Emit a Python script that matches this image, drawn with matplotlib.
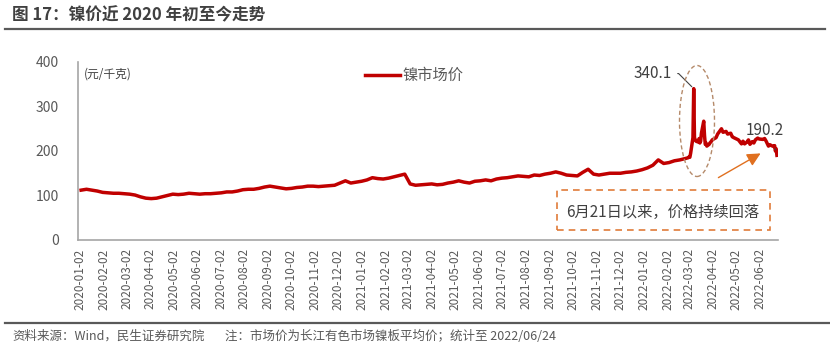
import matplotlib

matplotlib.use("Agg")

import matplotlib.pyplot as plt
import matplotlib.dates as mdates
import pandas as pd
from matplotlib.patches import Ellipse, Rectangle

plt.rcParams["font.family"] = ["Noto Sans CJK SC", "DejaVu Sans"]

# weekly prices (Fridays), 2020-01-03 .. 2022-02-25, 元/千克
weekly_2020 = [
    112, 114, 112, 110, 107,
    106, 105, 105, 104,
    103, 101, 97, 94,
    93, 94, 97, 100,
    103, 102, 103, 105, 104,
    103, 104, 104, 105,
    106, 108, 108, 110, 113,
    114, 114, 116, 119,
    121, 119, 117, 115,
    116, 118, 119, 121, 121,
    120, 121, 122, 123,
    128, 133, 128, 130,
]
weekly_2021 = [
    132, 135, 140, 138, 137,
    139, 142, 145, 148,
    126, 123, 124, 125,
    126, 124, 125, 128, 130,
    133, 130, 128, 132,
    133, 135, 133, 137,
    139, 140, 142, 144, 143,
    142, 146, 145, 148,
    150, 153, 150, 146,
    145, 144, 152, 159, 148,
    146, 148, 150, 150,
    150, 152, 153, 155, 158,
]
weekly_2022 = [162, 168, 180, 172, 174, 178, 180, 183]

# denser points for March-June 2022
late_dates = [
    "2022-03-01", "2022-03-02", "2022-03-03", "2022-03-04", "2022-03-07",
    "2022-03-08", "2022-03-09", "2022-03-10", "2022-03-11", "2022-03-14",
    "2022-03-15", "2022-03-16", "2022-03-17", "2022-03-18", "2022-03-21",
    "2022-03-22", "2022-03-23", "2022-03-24", "2022-03-25", "2022-03-28",
    "2022-03-29", "2022-03-30", "2022-03-31", "2022-04-01", "2022-04-06",
    "2022-04-08", "2022-04-11", "2022-04-13", "2022-04-15", "2022-04-19",
    "2022-04-21", "2022-04-25", "2022-04-27", "2022-04-29", "2022-05-05",
    "2022-05-09", "2022-05-11", "2022-05-13", "2022-05-16", "2022-05-18",
    "2022-05-20", "2022-05-23", "2022-05-25", "2022-05-27", "2022-05-30",
    "2022-06-01", "2022-06-06", "2022-06-08", "2022-06-10", "2022-06-13",
    "2022-06-15", "2022-06-17", "2022-06-20", "2022-06-21", "2022-06-22",
    "2022-06-23", "2022-06-24",
]
late_values = [
    185, 187, 186, 195, 230,
    340.1, 230, 225, 222, 220,
    228, 218, 222, 240, 267,
    235, 215, 218, 211, 215,
    218, 220, 222, 225, 230,
    238, 245, 250, 242, 244,
    238, 240, 232, 230, 225,
    216, 222, 216, 220, 225,
    215, 221, 218, 225, 229,
    227, 226, 228, 222, 211,
    214, 212, 210, 212, 200,
    205, 190.2,
]

weekly_vals = weekly_2020 + weekly_2021 + weekly_2022
weekly_dates = pd.date_range("2020-01-03", periods=len(weekly_vals), freq="W-FRI")
dates = list(weekly_dates) + list(pd.to_datetime(late_dates))
prices = weekly_vals + late_values

tick_dates = pd.date_range("2020-01-01", "2022-06-01", freq="MS") + pd.Timedelta(days=1)

fig = plt.figure(figsize=(8.3, 3.59), dpi=100)
ax = fig.add_axes([0.094, 0.3315, 0.843, 0.4958])

ax.plot(dates, prices, color="#C00000", linewidth=2.5, label="镍市场价", zorder=3)

ax.set_ylim(0, 400)
ax.set_yticks([0, 100, 200, 300, 400])
ax.set_xlim(pd.Timestamp("2019-12-30"), pd.Timestamp("2022-06-25"))
ax.set_xticks(tick_dates)
ax.xaxis.set_major_formatter(mdates.DateFormatter("%Y-%m-%d"))
ax.tick_params(axis="x", rotation=90, labelsize=8.5, colors="#595959", length=0, pad=6)
ax.tick_params(axis="y", labelsize=10, colors="#595959", length=0, pad=14)

for side in ["top", "right"]:
    ax.spines[side].set_visible(False)
for side in ["left", "bottom"]:
    ax.spines[side].set_color("#A6A6A6")
    ax.spines[side].set_linewidth(1.2)

ax.text(0.008, 0.93, "(元/千克)", transform=ax.transAxes, fontsize=8.5,
        color="#404040", va="center")

ax.legend(loc="upper left", bbox_to_anchor=(0.39, 1.05), frameon=False,
          fontsize=11, handlelength=2.3, handletextpad=0.2, labelcolor="#595959")

# peak annotation
peak_date = pd.Timestamp("2022-03-08")
ax.annotate("340.1", xy=(peak_date, 340.1), xytext=(pd.Timestamp("2022-02-08"), 374),
            fontsize=11, color="#404040", ha="right", va="center",
            arrowprops=dict(arrowstyle="-", color="#404040", lw=0.8,
                            connectionstyle="angle,angleA=0,angleB=135,rad=0"))
ax.annotate("190.2", xy=(pd.Timestamp("2022-06-24"), 197), xytext=(pd.Timestamp("2022-06-08"), 247),
            fontsize=11, color="#404040", ha="center", va="center",
            arrowprops=dict(arrowstyle="-", color="#404040", lw=0.8, shrinkA=6))

fig_w, fig_h = 830, 359

# dashed ellipse around the spike
ell = Ellipse((697 / fig_w, 1 - 121 / fig_h), 35 / fig_w, 111 / fig_h,
              transform=fig.transFigure, fill=False, edgecolor="#B58A6A",
              linestyle=(0, (3, 2)), linewidth=1.0)
fig.patches.append(ell)

# arrow and callout box
fig.patches.append(Rectangle((557 / fig_w, 1 - 230 / fig_h), 213 / fig_w, 40 / fig_h,
                             transform=fig.transFigure, fill=False, edgecolor="#E07B39",
                             linestyle=(0, (4, 3)), linewidth=1.2))
fig.text(663 / fig_w, 1 - 212 / fig_h, "6月21日以来，价格持续回落", fontsize=11,
         color="#404040", ha="center", va="center")
ax.annotate("", xy=(763 / fig_w, 1 - 152 / fig_h), xytext=(716 / fig_w, 1 - 179 / fig_h),
            xycoords="figure fraction", textcoords="figure fraction",
            arrowprops=dict(arrowstyle="-|>,head_length=0.8,head_width=0.4",
                            color="#E07020", lw=1.0))

# title, rules and footer
fig.text(12 / fig_w, 1 - 15 / fig_h, "图 17：镍价近 2020 年初至今走势", fontsize=12,
         fontweight="bold", color="#404040", va="center")
fig.add_artist(plt.Line2D([5 / fig_w, 825 / fig_w], [1 - 29 / fig_h] * 2,
                          color="#595959", linewidth=1.6))
fig.add_artist(plt.Line2D([5 / fig_w, 830 / fig_w], [1 - 323 / fig_h] * 2,
                          color="#595959", linewidth=1.6))
fig.text(12 / fig_w, 1 - 336 / fig_h, "资料来源：Wind，民生证券研究院", fontsize=9,
         color="#595959", va="center")
fig.text(225 / fig_w, 1 - 336 / fig_h, "注：市场价为长江有色市场镍板平均价；统计至 2022/06/24",
         fontsize=9, color="#595959", va="center")

fig.savefig("out.png", dpi=100)
